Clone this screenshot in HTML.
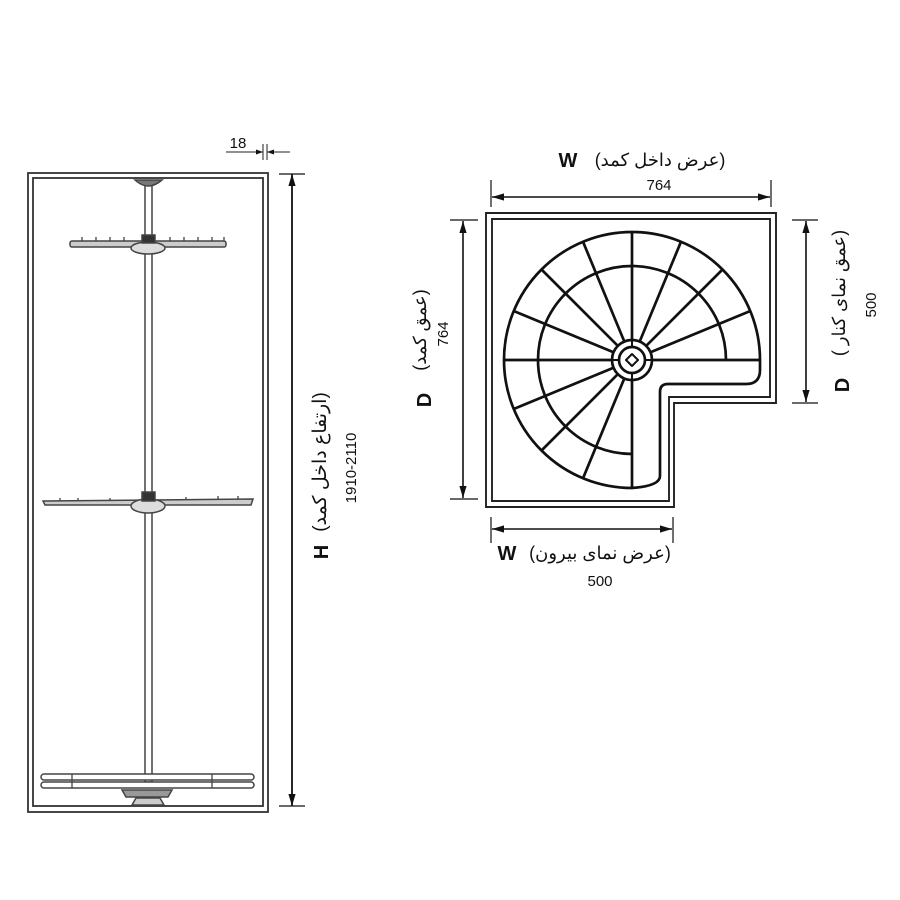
<!DOCTYPE html>
<html><head><meta charset="utf-8"><style>
html,body{margin:0;padding:0;background:#fff}
svg{display:block}
text{font-family:"Liberation Sans","Noto Sans CJK SC","DejaVu Sans",sans-serif;fill:#111}
</style></head><body>
<svg width="900" height="900" viewBox="0 0 900 900" xmlns="http://www.w3.org/2000/svg">
<defs>
<marker id="a" viewBox="0 0 10 10" refX="10" refY="5" markerWidth="7" markerHeight="7" orient="auto-start-reverse" markerUnits="userSpaceOnUse"><path d="M0,1.5 L10,5 L0,8.5 Z" fill="#111"/></marker>
<marker id="b" viewBox="0 0 10 10" refX="10" refY="5" markerWidth="12" markerHeight="12" orient="auto-start-reverse" markerUnits="userSpaceOnUse"><path d="M0,2 L10,5 L0,8 Z" fill="#111"/></marker>
</defs>
<!-- LEFT CABINET -->
<g stroke="#333" fill="none" stroke-width="1.8">
<rect x="28" y="173" width="240" height="639"/>
<rect x="33" y="178" width="230" height="628"/>
</g>
<g stroke="#444" stroke-width="1.5" fill="#fff">
<rect x="145" y="182" width="7" height="600"/>
<path d="M135,180 Q148,192 162,180 Z" fill="#777"/>
<rect x="70" y="241" width="156" height="6" rx="2" fill="#ccc"/>
<ellipse cx="148" cy="248" rx="17" ry="6" fill="#ddd"/>
<rect x="142" y="235" width="13" height="8" fill="#333"/>
<path d="M43,501 L253,499 L251,505 L45,505 Z" fill="#ccc"/>
<ellipse cx="148" cy="506" rx="17" ry="7" fill="#ddd"/>
<rect x="142" y="492" width="13" height="9" fill="#333"/>
<rect x="41" y="774" width="213" height="6" rx="3" fill="#fff"/>
<rect x="41" y="782" width="213" height="6" rx="3" fill="#fff"/>
<path d="M122,790 L172,790 L168,797 L126,797 Z" fill="#999"/>
<path d="M136,798 L160,798 L164,805 L132,805 Z" fill="#ccc"/>
</g>
<g stroke="#444" stroke-width="1.3">
<path d="M82,241 v-4 M96,241 v-4 M110,241 v-4 M124,241 v-4 M170,241 v-4 M184,241 v-4 M198,241 v-4 M212,241 v-4 M224,241 v-4"/>
<path d="M60,501 v-3 M78,501 v-3 M110,501 v-3 M186,500 v-3 M218,499 v-3 M238,499 v-3"/>
<path d="M72,774 v14 M212,774 v14"/>
</g>
<text x="238" y="148" font-size="15" text-anchor="middle">18</text>
<g stroke="#222" stroke-width="1">
<path d="M263,144 v16 M267,144 v16"/>
<line x1="226" y1="152" x2="263" y2="152" marker-end="url(#a)"/>
<line x1="290" y1="152" x2="267" y2="152" marker-end="url(#a)"/>
</g>
<g stroke="#111" stroke-width="1.8">
<path d="M279,174 H305 M279,806 H305" stroke-width="1.2"/>
<line x1="292" y1="174" x2="292" y2="806" marker-start="url(#b)" marker-end="url(#b)"/>
</g>
<text transform="translate(328,552) rotate(-90)" font-size="20" font-weight="bold" text-anchor="middle">H</text>
<text transform="translate(326,462) rotate(-90)" font-size="19" text-anchor="middle" direction="rtl">(ارتفاع داخل کمد)</text>
<text transform="translate(356,468) rotate(-90)" font-size="15" text-anchor="middle">1910-2110</text>

<!-- RIGHT PLAN -->
<g stroke="#222" fill="none" stroke-width="1.9">
<path d="M486,213 L776,213 L776,403 L674,403 L674,507 L486,507 Z"/>
<path d="M492,219 L770,219 L770,397 L669,397 L669,501 L492,501 Z"/>
</g>
<g stroke="#111" fill="none" stroke-width="2.7" stroke-linejoin="round">
<path d="M632,488 A128,128 0 1 1 760,360 L760,370 Q760,384 746,384 L668,384 Q660,384 660,392 L660,476 Q660,486 632,488 Z"/>
<path d="M726,360 A94,94 0 1 0 632,454"/>
<path d="M652,360L760,360 M650.5,352.3L750.3,311 M646.1,345.9L722.5,269.5 M639.7,341.5L681,241.7 M632,340L632,232 M624.3,341.5L583,241.7 M617.9,345.9L541.5,269.5 M613.5,352.3L513.7,311 M612,360L504,360 M613.5,367.7L513.7,409 M617.9,374.1L541.5,450.5 M624.3,378.5L583,478.3 M632,380L632,488"/>
<circle cx="632" cy="360" r="20"/>
<circle cx="632" cy="360" r="13"/>
<path d="M632,354 L638,360 L632,366 L626,360 Z" stroke-width="2"/>
<path d="M632,340 V347 M632,373 V380 M612,360 H619 M645,360 H652" stroke-width="2"/>
</g>
<g stroke="#111" stroke-width="1.6">
<path d="M491,180 V207 M771,180 V207" stroke-width="1.2"/>
<line x1="492" y1="197" x2="770" y2="197" marker-start="url(#b)" marker-end="url(#b)"/>
</g>
<text x="568" y="167" font-size="20" font-weight="bold" text-anchor="middle">W</text>
<text x="660" y="166" font-size="18" text-anchor="middle" direction="rtl">(عرض داخل کمد)</text>
<text x="659" y="190" font-size="15" text-anchor="middle">764</text>
<g stroke="#111" stroke-width="1.6">
<path d="M450,220 H478 M450,499 H478" stroke-width="1.2"/>
<line x1="463" y1="221" x2="463" y2="498" marker-start="url(#b)" marker-end="url(#b)"/>
</g>
<text transform="translate(431,400) rotate(-90)" font-size="20" font-weight="bold" text-anchor="middle">D</text>
<text transform="translate(426,330) rotate(-90)" font-size="18" text-anchor="middle" direction="rtl">(عمق کمد)</text>
<text transform="translate(448,334) rotate(-90)" font-size="15" text-anchor="middle">764</text>
<g stroke="#111" stroke-width="1.6">
<path d="M792,220 H818 M792,403 H818" stroke-width="1.2"/>
<line x1="806" y1="221" x2="806" y2="402" marker-start="url(#b)" marker-end="url(#b)"/>
</g>
<text transform="translate(849,385) rotate(-90)" font-size="20" font-weight="bold" text-anchor="middle">D</text>
<text transform="translate(845,293) rotate(-90)" font-size="18" text-anchor="middle" direction="rtl">(عمق نمای کنار )</text>
<text transform="translate(876,305) rotate(-90)" font-size="15" text-anchor="middle">500</text>
<g stroke="#111" stroke-width="1.6">
<path d="M491,517 V543 M673,517 V543" stroke-width="1.2"/>
<line x1="492" y1="529" x2="672" y2="529" marker-start="url(#b)" marker-end="url(#b)"/>
</g>
<text x="507" y="560" font-size="20" font-weight="bold" text-anchor="middle">W</text>
<text x="600" y="559" font-size="18" text-anchor="middle" direction="rtl">(عرض نمای بیرون)</text>
<text x="600" y="586" font-size="15" text-anchor="middle">500</text>
</svg>
</body></html>
